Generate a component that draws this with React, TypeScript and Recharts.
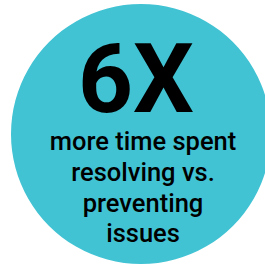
import { PieChart, Pie, Cell, Label } from "recharts";

const slices = [{ name: "stat", value: 1 }];
const headline = "6X";
const captionLines = ["more time spent", "resolving vs.", "preventing", "issues"];
const captionBaselines = [150, 181, 212, 242];

const TEAL = "#41C3D4";

function StatText() {
  return (
    <g fontFamily="Roboto, 'Noto Sans', sans-serif" fill="#000">
      <text x={136} y={112} textAnchor="middle" fontSize={96} fontWeight={700}>
        {headline}
      </text>
      {captionLines.map((line, i) => (
        <text
          key={line}
          x={143}
          y={captionBaselines[i]}
          textAnchor="middle"
          fontSize={25.5}
          fontWeight={500}
        >
          {line}
        </text>
      ))}
    </g>
  );
}

export default function App() {
  return (
    <div style={{ position: "absolute", left: 0, top: 0, background: "#fff" }}>
      <PieChart width={265} height={267} margin={{ top: 0, right: 0, bottom: 0, left: 0 }}>
        <Pie
          data={slices}
          dataKey="value"
          cx={141}
          cy={134}
          outerRadius={130}
          innerRadius={0}
          startAngle={90}
          endAngle={-270}
          stroke="none"
          isAnimationActive={false}
        >
          {slices.map((s) => (
            <Cell key={s.name} fill={TEAL} />
          ))}
          <Label position="center" content={() => <StatText />} />
        </Pie>
      </PieChart>
    </div>
  );
}
